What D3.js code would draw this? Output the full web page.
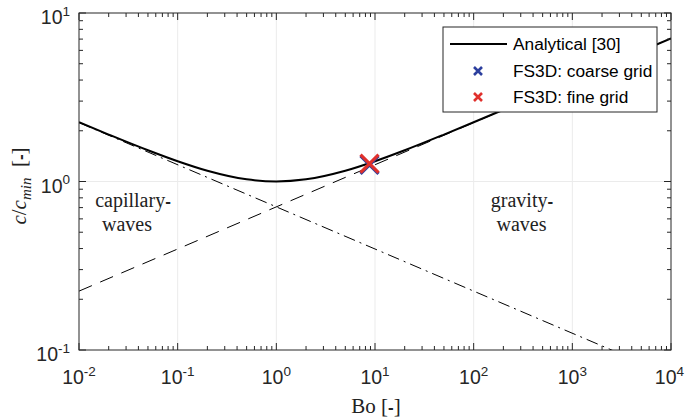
<!DOCTYPE html>
<html>
<head>
<meta charset="utf-8">
<script src="https://cdn.jsdelivr.net/npm/d3@7/dist/d3.min.js"></script>
<style>
  html, body { margin: 0; padding: 0; background: #fff; }
  svg { display: block; }
</style>
</head>
<body>
<svg id="chart" width="686" height="419"></svg>
<script>
// Phase speed ratio c/c_min versus Bond number
const boValues = [0.01, 0.02, 0.05, 0.1, 0.2, 0.5, 1, 2, 5, 10, 20, 50, 100, 200, 500, 1000, 2000, 5000, 10000];
const speedRatio = [2.247, 1.899, 1.532, 1.319, 1.158, 1.030, 1.0, 1.030, 1.158, 1.319, 1.532, 1.899, 2.247, 2.666, 3.347, 3.978, 4.730, 5.946, 7.071];

// Asymptotes (straight lines in log-log space)
const gravityBo = [0.01, 10000];
const gravityRatio = [0.2236, 7.071];
const capillaryBo = [0.01, 10000];
const capillaryRatio = [2.236, 0.0707];

// Simulation results
const coarseBo = [8.8];
const coarseRatio = [1.255];
const fineBo = [8.8];
const fineRatio = [1.275];

const xTickExps = [-2, -1, 0, 1, 2, 3, 4];
const yTickExps = [-1, 0, 1];

const legendLabels = ["Analytical [30]", "FS3D: coarse grid", "FS3D: fine grid"];
const blue = "#2c3f9e";
const red = "#e0302c";

const svg = d3.select("#chart");
const L = 79, R = 671, T = 13, B = 350;

const x = d3.scaleLog().domain([1e-2, 1e4]).range([L, R]);
const y = d3.scaleLog().domain([1e-1, 1e1]).range([B, T]);

svg.append("defs").append("clipPath").attr("id", "plotclip")
  .append("rect").attr("x", L).attr("y", T).attr("width", R - L).attr("height", B - T);

// grid
const grid = svg.append("g").attr("stroke", "#ebebeb").attr("stroke-width", 1);
xTickExps.slice(1, -1).forEach(e => {
  grid.append("line").attr("x1", x(10 ** e)).attr("x2", x(10 ** e)).attr("y1", T).attr("y2", B);
});
yTickExps.slice(1, -1).forEach(e => {
  grid.append("line").attr("x1", L).attr("x2", R).attr("y1", y(10 ** e)).attr("y2", y(10 ** e));
});

// curves
const plot = svg.append("g").attr("clip-path", "url(#plotclip)");
const lineGen = d3.line().x(d => x(d[0])).y(d => y(d[1]));

plot.append("path")
  .datum(gravityBo.map((b, i) => [b, gravityRatio[i]]))
  .attr("d", lineGen)
  .attr("fill", "none").attr("stroke", "#000").attr("stroke-width", 1)
  .attr("stroke-dasharray", "14,9");

plot.append("path")
  .datum(capillaryBo.map((b, i) => [b, capillaryRatio[i]]))
  .attr("d", lineGen)
  .attr("fill", "none").attr("stroke", "#000").attr("stroke-width", 1)
  .attr("stroke-dasharray", "12,5,2,5");

plot.append("path")
  .datum(boValues.map((b, i) => [b, speedRatio[i]]))
  .attr("d", lineGen.curve(d3.curveMonotoneX))
  .attr("fill", "none").attr("stroke", "#000").attr("stroke-width", 2);

// cross markers
function cross(g, cx, cy, half, color, width) {
  g.append("path")
    .attr("d", `M${cx - half},${cy - half}L${cx + half},${cy + half}M${cx - half},${cy + half}L${cx + half},${cy - half}`)
    .attr("stroke", color).attr("stroke-width", width).attr("fill", "none");
}
coarseBo.forEach((b, i) => cross(plot, x(b), y(coarseRatio[i]), 9, blue, 3.2));
fineBo.forEach((b, i) => cross(plot, x(b), y(fineRatio[i]), 9, red, 3.2));

// axes box and ticks
const axes = svg.append("g").attr("stroke", "#262626").attr("stroke-width", 1);
axes.append("rect").attr("x", L).attr("y", T).attr("width", R - L).attr("height", B - T).attr("fill", "none");

const majLen = 7, minLen = 4;
xTickExps.forEach((e, k) => {
  const vals = [10 ** e];
  if (k < xTickExps.length - 1) for (let m = 2; m <= 9; m++) vals.push(m * 10 ** e);
  vals.forEach((v, j) => {
    const len = j === 0 ? majLen : minLen;
    const px = x(v);
    axes.append("line").attr("x1", px).attr("x2", px).attr("y1", B).attr("y2", B - len);
    axes.append("line").attr("x1", px).attr("x2", px).attr("y1", T).attr("y2", T + len);
  });
});
yTickExps.forEach((e, k) => {
  const vals = [10 ** e];
  if (k < yTickExps.length - 1) for (let m = 2; m <= 9; m++) vals.push(m * 10 ** e);
  vals.forEach((v, j) => {
    const len = j === 0 ? majLen : minLen;
    const py = y(v);
    axes.append("line").attr("y1", py).attr("y2", py).attr("x1", L).attr("x2", L + len);
    axes.append("line").attr("y1", py).attr("y2", py).attr("x1", R).attr("x2", R - len);
  });
});

// tick labels
const sans = "'Liberation Sans', Arial, sans-serif";
const serif = "'Liberation Serif', 'Times New Roman', serif";

function powLabel(sel, e) {
  sel.append("tspan").text("10");
  sel.append("tspan").attr("dy", -8.5).attr("font-size", 13.5).text(String(e));
}
xTickExps.forEach((e, k) => {
  const last = k === xTickExps.length - 1;
  const t = svg.append("text").attr("x", last ? 684 : x(10 ** e)).attr("y", 384)
    .attr("text-anchor", last ? "end" : "middle").attr("font-family", sans).attr("font-size", 19.5).attr("fill", "#262626");
  powLabel(t, e);
});
yTickExps.forEach(e => {
  const t = svg.append("text").attr("x", 70).attr("y", y(10 ** e) + 11)
    .attr("text-anchor", "end").attr("font-family", sans).attr("font-size", 19.5).attr("fill", "#262626");
  powLabel(t, e);
});

// axis titles
const xl = svg.append("text").attr("x", 376).attr("y", 413).attr("text-anchor", "middle")
  .attr("font-family", serif).attr("font-size", 21).attr("fill", "#222");
xl.append("tspan").text("Bo [");
xl.append("tspan").attr("font-family", sans).attr("font-weight", "bold").attr("font-size", 17).text("-");
xl.append("tspan").text("]");

const yl = svg.append("text").attr("transform", "translate(26,186) rotate(-90)").attr("text-anchor", "middle")
  .attr("font-family", serif).attr("font-size", 21).attr("fill", "#222");
yl.append("tspan").attr("font-style", "italic").text("c");
yl.append("tspan").text("/");
yl.append("tspan").attr("font-style", "italic").text("c");
yl.append("tspan").attr("font-style", "italic").attr("font-size", 15).attr("dy", 5).text("min");
yl.append("tspan").attr("dy", -5).text("\u2002[");
yl.append("tspan").attr("font-family", sans).attr("font-weight", "bold").attr("font-size", 17).text("-");
yl.append("tspan").text("]");

// regime annotations
function annotate(cx1, cx2, first, second) {
  const t1 = svg.append("text").attr("x", cx1).attr("y", 207).attr("text-anchor", "middle")
    .attr("font-family", serif).attr("font-size", 20).attr("fill", "#222");
  t1.append("tspan").text(first);
  t1.append("tspan").attr("font-family", sans).attr("font-weight", "bold").attr("font-size", 17).text("-");
  svg.append("text").attr("x", cx2).attr("y", 231).attr("text-anchor", "middle")
    .attr("font-family", serif).attr("font-size", 20).attr("fill", "#222").text(second);
}
annotate(133, 127, "capillary", "waves");
annotate(522, 521.5, "gravity", "waves");

// legend
const lg = svg.append("g");
lg.append("rect").attr("x", 443).attr("y", 27).attr("width", 214).attr("height", 85)
  .attr("fill", "#fff").attr("stroke", "#262626").attr("stroke-width", 1);
lg.append("line").attr("x1", 450).attr("x2", 507).attr("y1", 44).attr("y2", 44)
  .attr("stroke", "#000").attr("stroke-width", 2);
cross(lg, 478, 71, 4, blue, 2.6);
cross(lg, 478, 97, 4, red, 2.6);
legendLabels.forEach((s, i) => {
  lg.append("text").attr("x", 513).attr("y", 50 + i * 26.5)
    .attr("font-family", sans).attr("font-size", 17.3).attr("fill", "#000").text(s);
});
</script>
</body>
</html>
